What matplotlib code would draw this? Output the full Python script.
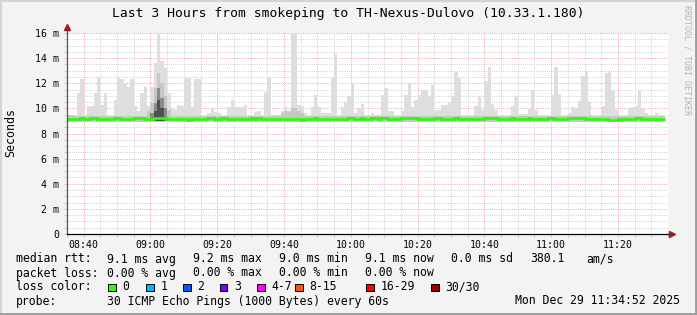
import matplotlib
matplotlib.use("Agg")
import matplotlib.pyplot as plt
from matplotlib.patches import Rectangle
from matplotlib.lines import Line2D
import numpy as np

# ---- data (one sample per minute from 08:35) ----
smoke_top = [
    9.35, 9.35, 9.2, 11.2, 12.3, 9.5, 10.2, 10.2, 11.2, 12.5,
    10.3, 11.2, 9.3, 9.4, 10.7, 12.5, 12.3, 12.0, 11.7, 12.3,
    10.2, 9.8, 11.2, 11.7, 10.2, 11.7, 13.6, 16.0, 13.8, 13.2,
    11.2, 10.0, 9.9, 10.3, 10.2, 12.5, 12.4, 10.1, 12.3, 12.3,
    9.3, 9.3, 9.6, 10.0, 9.7, 9.6, 9.3, 9.3, 10.1, 10.7,
    10.1, 10.1, 10.1, 10.3, 9.4, 9.3, 9.7, 9.8, 9.3, 11.3,
    12.5, 9.5, 9.5, 9.5, 9.8, 10.2, 9.9, 16.0, 16.0, 10.3,
    10.2, 9.6, 9.3, 10.1, 11.1, 10.1, 9.6, 9.6, 9.6, 12.4,
    14.3, 9.3, 10.1, 10.5, 11.0, 12.0, 9.6, 10.0, 10.35, 9.4,
    9.3, 9.6, 9.5, 9.5, 11.1, 11.6, 9.8, 9.8, 9.4, 9.4,
    9.8, 11.1, 12.0, 10.1, 10.7, 11.1, 11.5, 11.5, 10.95, 11.9,
    9.9, 9.9, 10.25, 10.25, 10.5, 11.0, 12.9, 12.4, 9.4, 9.3,
    9.3, 9.3, 10.2, 10.9, 9.9, 12.2, 13.3, 10.35, 9.9, 9.3,
    9.3, 9.3, 9.3, 10.2, 10.95, 9.55, 9.55, 9.55, 9.95, 11.5,
    9.9, 9.3, 9.3, 9.4, 9.4, 11.1, 13.3, 11.15, 9.3, 9.3,
    9.6, 10.1, 10.0, 10.6, 12.6, 13.0, 10.5, 9.3, 9.3, 9.3,
    10.2, 12.8, 13.0, 11.4, 9.9, 9.3, 9.3, 9.3, 10.0, 10.1,
    10.2, 11.4, 10.0, 9.6, 9.3, 9.3, 9.6, 9.3, 9.3,
]

median_rtt = [
    9.12, 9.12, 9.12, 9.12, 9.2, 9.12, 9.12, 9.2, 9.2, 9.12,
    9.12, 9.12, 9.12, 9.12, 9.2, 9.2, 9.12, 9.12, 9.12, 9.12,
    9.2, 9.2, 9.2, 9.12, 9.12, 9.12, 9.22, 9.26, 9.24, 9.2,
    9.12, 9.12, 9.12, 9.12, 9.12, 9.12, 9.04, 9.12, 9.12, 9.12,
    9.12, 9.12, 9.2, 9.2, 9.12, 9.12, 9.2, 9.2, 9.12, 9.12,
    9.12, 9.12, 9.12, 9.12, 9.12, 9.2, 9.12, 9.2, 9.12, 9.12,
    9.12, 9.12, 9.12, 9.12, 9.12, 9.12, 9.12, 9.12, 9.12, 9.12,
    9.04, 9.12, 9.12, 9.12, 9.2, 9.12, 9.12, 9.12, 9.12, 9.12,
    9.12, 9.12, 9.12, 9.12, 9.2, 9.2, 9.12, 9.12, 9.2, 9.12,
    9.12, 9.2, 9.2, 9.12, 9.2, 9.2, 9.12, 9.12, 9.12, 9.12,
    9.2, 9.2, 9.2, 9.2, 9.2, 9.12, 9.12, 9.12, 9.12, 9.12,
    9.2, 9.2, 9.12, 9.12, 9.12, 9.12, 9.2, 9.12, 9.12, 9.12,
    9.12, 9.12, 9.12, 9.12, 9.12, 9.2, 9.2, 9.2, 9.2, 9.12,
    9.12, 9.12, 9.12, 9.2, 9.12, 9.12, 9.12, 9.12, 9.2, 9.12,
    9.12, 9.12, 9.12, 9.12, 9.2, 9.2, 9.12, 9.12, 9.12, 9.12,
    9.2, 9.2, 9.2, 9.2, 9.2, 9.12, 9.12, 9.12, 9.12, 9.12,
    9.12, 9.12, 9.04, 9.04, 9.04, 9.12, 9.12, 9.12, 9.12, 9.12,
    9.2, 9.2, 9.12, 9.12, 9.12, 9.12, 9.12, 9.12, 9.12,
]

# darker smoke bands (minute index -> top of band), everything else sits near the median
smoke_mid_default = 9.4
smoke_mid = {0: 9.45, 1: 9.45, 24: 9.8, 25: 10.4, 26: 11.6, 27: 12.8, 28: 12.0,
             29: 11.0, 30: 9.9, 64: 9.65, 65: 9.8, 66: 9.7, 67: 10.0, 68: 10.0,
             69: 9.8, 70: 9.6}
smoke_dark = {25: 9.6, 26: 10.4, 27: 11.6, 28: 10.8, 29: 10.0}
smoke_darkest = {26: 9.8, 27: 10.7, 28: 10.0}

start_label = ["08:40", "09:00", "09:20", "09:40", "10:00", "10:20", "10:40", "11:00", "11:20"]
tick_minutes = [5, 25, 45, 65, 85, 105, 125, 145, 165]   # minutes after 08:35

loss_labels = ["0", "1", "2", "3", "4-7", "8-15", "16-29", "30/30"]
loss_colors = ["#26ff00", "#00b8ff", "#0059ff", "#7e00ff", "#ff00ff", "#ff5500", "#ff0000", "#a10000"]

W, H = 697, 315
BG = "#f3f3f3"

fig = plt.figure(figsize=(W / 100, H / 100), dpi=100)
fig.patch.set_facecolor(BG)

def fx(px):
    return px / W

def fy(py):
    return 1 - py / H

# frame bevel
fig.add_artist(Line2D([0, 1], [fy(0.5), fy(0.5)], color="#d4d4d4", lw=1.5))
fig.add_artist(Line2D([fx(0.5), fx(0.5)], [0, 1], color="#d4d4d4", lw=1.5))
fig.add_artist(Line2D([0, 1], [fy(314), fy(314)], color="#9c9c9c", lw=2))
fig.add_artist(Line2D([fx(696), fx(696)], [0, 1], color="#9c9c9c", lw=2))

ax = fig.add_axes([fx(67), fy(234), fx(668) - fx(67), fy(33) - fy(234)])
ax.set_facecolor("white")
ax.set_xlim(0, 180)
ax.set_ylim(0, 16)

n = len(smoke_top)
x = np.arange(n)
base = 8.9

# smoke layers
ax.bar(x, np.array(smoke_top) - base, bottom=base, width=1, align="edge",
       color="#dedede", linewidth=0, zorder=2)
mid = np.array([smoke_mid.get(i, smoke_mid_default) for i in range(n)])
ax.bar(x, mid - 8.95, bottom=8.95, width=1, align="edge", color="#c6c6c6", linewidth=0, zorder=3)
for layer, col in ((smoke_dark, "#8a8a8a"), (smoke_darkest, "#505050")):
    idx = list(layer.keys())
    ax.bar(idx, [layer[i] - 9.0 for i in idx], bottom=9.0, width=1, align="edge",
           color=col, linewidth=0, zorder=4)

# median line
ax.stairs(median_rtt, np.arange(n + 1), baseline=None, color="#26ff00", lw=1.9, zorder=5)

# grid, dotted like rrdtool
gkw = dict(lw=0.72, ls=(0, (1, 1.2)))
for m in range(0, 181, 5):
    if m in tick_minutes:
        continue
    ax.axvline(m, color="#d2d2d2", zorder=1, **gkw)
for v in np.arange(0.5, 16.01, 0.5):
    if v % 2 == 0:
        continue
    ax.axhline(v, color="#d2d2d2", zorder=1, **gkw)
for m in tick_minutes:
    ax.axvline(m, color="#f0a8a8", zorder=1.5, **gkw)
for v in range(2, 17, 2):
    ax.axhline(v, color="#f0a8a8", zorder=1.5, **gkw)

for s in ax.spines.values():
    s.set_visible(False)

# axes with arrows
ax.plot([0, 0], [0, 16.45], color="#555555", lw=0.9, clip_on=False, zorder=6)
ax.plot([0, 181.2], [0, 0], color="black", lw=0.9, clip_on=False, zorder=6)
ax.plot([0], [16.45], marker="^", ms=4.5, color="#a01c1c", clip_on=False, zorder=7)
ax.plot([181.2], [0], marker=">", ms=4.5, color="#a01c1c", clip_on=False, zorder=7)

ax.set_xticks(tick_minutes)
ax.set_xticklabels(start_label, fontfamily="DejaVu Sans Mono", fontsize=7.1)
ax.set_xticks(range(0, 181, 5), minor=True)
ax.set_yticks(range(0, 17, 2))
ax.set_yticklabels(["0"] + ["%d m" % v for v in range(2, 17, 2)],
                   fontfamily="DejaVu Sans Mono", fontsize=7.1)
ax.set_yticks(np.arange(0, 16.01, 0.5), minor=True)
ax.tick_params(axis="both", which="both", length=2, width=0.7, color="#c8c8c8")
ax.tick_params(axis="x", which="major", pad=2.5)
ax.tick_params(axis="y", which="major", pad=3.5)

mono = "DejaVu Sans Mono"
fig.text(0.5, fy(14), "Last 3 Hours from smokeping to TH-Nexus-Dulovo (10.33.1.180)",
         ha="center", va="center", fontfamily=mono, fontsize=9.4)
fig.text(fx(11), fy(132), "Seconds", rotation=90, ha="center", va="center",
         fontfamily=mono, fontsize=8.4)
fig.text(fx(687.5), fy(60), "RRDTOOL / TOBI OETIKER", rotation=270, ha="center", va="center",
         fontfamily=mono, fontsize=6, color="#b4b4b4")

fs = 8.3
def put(px, py, s, ha="left"):
    fig.text(fx(px), fy(py), s, ha=ha, va="center", fontfamily=mono, fontsize=fs)

put(16, 259, "median rtt:")
put(107, 259, "9.1 ms avg")
put(193, 259, "9.2 ms max")
put(279, 259, "9.0 ms min")
put(365, 259, "9.1 ms now")
put(451, 259, "0.0 ms sd")
put(530, 259, "380.1")
put(586, 259, "am/s")

put(16, 273, "packet loss:")
put(107, 273, "0.00 % avg")
put(193, 273, "0.00 % max")
put(279, 273, "0.00 % min")
put(365, 273, "0.00 % now")

put(16, 287, "loss color:")
box_x = [108, 146, 183, 220, 257, 295, 366, 431]
for bx, lab, col in zip(box_x, loss_labels, loss_colors):
    fig.add_artist(Rectangle((fx(bx), fy(291)), fx(7.5), 7.5 / H, facecolor=col,
                             edgecolor="black", lw=0.7))
    put(bx + 14.5, 287, lab)

put(16, 301, "probe:")
put(107, 301, "30 ICMP Echo Pings (1000 Bytes) every 60s")
put(680, 301, "Mon Dec 29 11:34:52 2025", ha="right")

fig.savefig("out.png", dpi=100, facecolor=BG)
